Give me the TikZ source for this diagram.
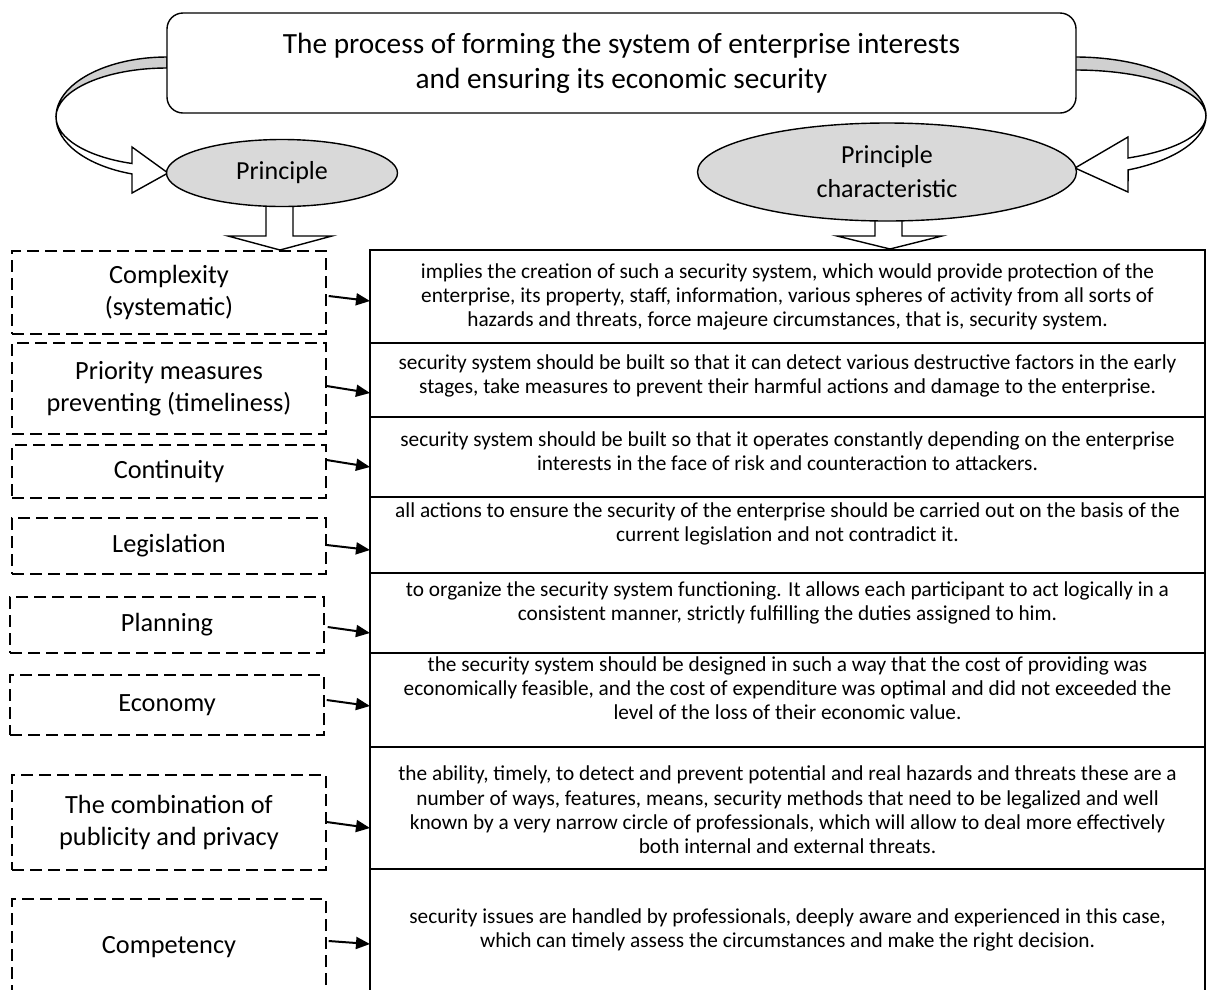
\documentclass[tikz,border=0pt]{standalone}
\usepackage{fontspec}
\setmainfont{Carlito}
\usetikzlibrary{arrows.meta,shapes.geometric}
\definecolor{ellgray}{HTML}{D9D9D9}
\definecolor{bandgray}{HTML}{D0D0D0}
\begin{document}
\begin{tikzpicture}[x=1pt,y=-1pt,
  outl/.style={draw=black, line width=1.4pt},
  dbox/.style={draw, dash pattern=on 12pt off 6pt, line width=1.4pt, inner sep=0pt,
    font=\fontsize{26.3}{32}\selectfont, align=center},
  ell/.style={draw, ellipse, fill=ellgray, line width=1.4pt, inner sep=0pt,
    font=\fontsize{26}{34}\selectfont, align=center},
  tbl/.style={draw=black, line width=2pt},
  ttxt/.style={font=\fontsize{21.3}{24.3}\selectfont, align=center, inner sep=0pt},
  arr/.style={line width=2pt, -{Triangle[length=14pt,width=12pt]}},
  band/.style={draw=black, line width=1.4pt, line join=miter}
]
\useasboundingbox (0,0) rectangle (1207,989);
\clip (0,0) rectangle (1207,989);

% curved arrows (behind)
\fill[white] (0,0) rectangle (1207,989);
\draw[band, fill=bandgray] (167,57) arc[start angle=270, end angle=180, x radius=111, y radius=60]
   arc[start angle=180, end angle=270, x radius=111, y radius=49] -- cycle;
\draw[band, fill=white] (56,117) arc[start angle=180, end angle=108.4, x radius=111, y radius=60]
   -- (132,193) -- (168,173) -- (132,147) -- (132,163.5)
   arc[start angle=108.4, end angle=180, x radius=111, y radius=49] -- cycle;

\draw[band, fill=bandgray] (1075,57) arc[start angle=270, end angle=360, x radius=131, y radius=59]
   arc[start angle=360, end angle=270, x radius=131, y radius=46] -- cycle;
\draw[band, fill=white] (1206,116) arc[start angle=0, end angle=66.1, x radius=131, y radius=59]
   -- (1128,192) -- (1075,168) -- (1128,137) -- (1128,158)
   arc[start angle=66.1, end angle=0, x radius=131, y radius=46] -- cycle;

% title
\node[outl, fill=white, rounded corners=16pt, minimum width=909pt, minimum height=100pt,
  font=\fontsize{29.3}{35}\selectfont, align=center] (title) at (621.5,63)
  {The process of forming the system of enterprise interests\\and ensuring its economic security};

% down block arrows
\draw[outl, fill=white, line join=miter] (266,190) -- (266,236) -- (228,236) -- (280,250) -- (332,236) -- (293,236) -- (293,190) -- cycle;
\draw[outl, fill=white, line join=miter] (875,200) -- (875,236) -- (837,236) -- (890,249) -- (942,236) -- (902,236) -- (902,200) -- cycle;

% ellipses
\node[ell, minimum width=231pt, minimum height=67pt] (p) at (282,173) {Principle};
\node[ell, minimum width=379pt, minimum height=98pt] (pc) at (887,172) {Principle\\characteristic};

% table
\coordinate (tl) at (370,250);
\coordinate (tr) at (1205,250);
\draw[tbl] (370,996) -- (tl) -- (tr) -- (1205,996);
\foreach \yy in {343,417,497,573,653,747,869} \draw[tbl] (370,\yy) -- (1205,\yy);

\node[ttxt] (r1) at (787.5,297) {implies the creation of such a security system, which would provide protection of the\\enterprise, its property, staff, information, various spheres of activity from all sorts of\\hazards and threats, force majeure circumstances, that is, security system.};
\node[ttxt] (r2) at (787.5,376) {security system should be built so that it can detect various destructive factors in the early\\stages, take measures to prevent their harmful actions and damage to the enterprise.};
\node[ttxt] (r3) at (787.5,451) {security system should be built so that it operates constantly depending on the enterprise\\interests in the face of risk and counteraction to attackers.};
\node[ttxt] (r4) at (787.5,524) {all actions to ensure the security of the enterprise should be carried out on the basis of the\\current legislation and not contradict it.};
\node[ttxt] (r5) at (787.5,603) {to organize the security system functioning. It allows each participant to act logically in a\\consistent manner, strictly fulfilling the duties assigned to him.};
\node[ttxt] (r6) at (787.5,688) {the security system should be designed in such a way that the cost of providing was\\economically feasible, and the cost of expenditure was optimal and did not exceeded the\\level of the loss of their economic value.};
\node[ttxt] (r7) at (787.5,810) {the ability, timely, to detect and prevent potential and real hazards and threats these are a\\number of ways, features, means, security methods that need to be legalized and well\\known by a very narrow circle of professionals, which will allow to deal more effectively\\both internal and external threats.};
\node[ttxt] (r8) at (787.5,930) {security issues are handled by professionals, deeply aware and experienced in this case,\\which can timely assess the circumstances and make the right decision.};

% dashed boxes
\node[dbox, minimum width=314pt, minimum height=83pt] (b1) at (169,292.5) {Complexity\\(systematic)};
\node[dbox, minimum width=314pt, minimum height=91pt] (b2) at (169,388.5) {Priority measures\\preventing (timeliness)};
\node[dbox, minimum width=314pt, minimum height=53pt] (b3) at (169,471.5) {Continuity};
\node[dbox, minimum width=314pt, minimum height=56pt] (b4) at (169,546) {Legislation};
\node[dbox, minimum width=314pt, minimum height=56pt] (b5) at (167,625) {Planning};
\node[dbox, minimum width=314pt, minimum height=60pt] (b6) at (167,705) {Economy};
\node[dbox, minimum width=314pt, minimum height=95pt] (b7) at (169,822.5) {The combination of\\publicity and privacy};
\node[dbox, minimum width=314pt, minimum height=96pt] (b8) at (169,947) {Competency};

% arrows
\draw[arr] ([xshift=2pt,yshift=-3.5pt]b1.east) -- ([yshift=-8.5pt]b1.east -| tl);
\draw[arr] ([yshift=2.5pt]b2.east) -- ([yshift=-4.5pt]b2.east -| tl);
\draw[arr] ([yshift=11.5pt]b3.east) -- ([yshift=4.5pt]b3.east -| tl);
\draw[arr] ([yshift=1pt]b4.east) -- ([yshift=-4pt]b4.east -| tl);
\draw[arr] ([xshift=3pt,yshift=-2pt]b5.east) -- ([yshift=-8pt]b5.east -| tl);
\draw[arr] ([xshift=2pt,yshift=5pt]b6.east) -- ([yshift=-1pt]b6.east -| tl);
\draw[arr] ([yshift=0.5pt]b7.east) -- ([yshift=-5.5pt]b7.east -| tl);
\draw[arr] ([xshift=2pt,yshift=6pt]b8.east) -- ([yshift=3pt]b8.east -| tl);
\end{tikzpicture}
\end{document}
